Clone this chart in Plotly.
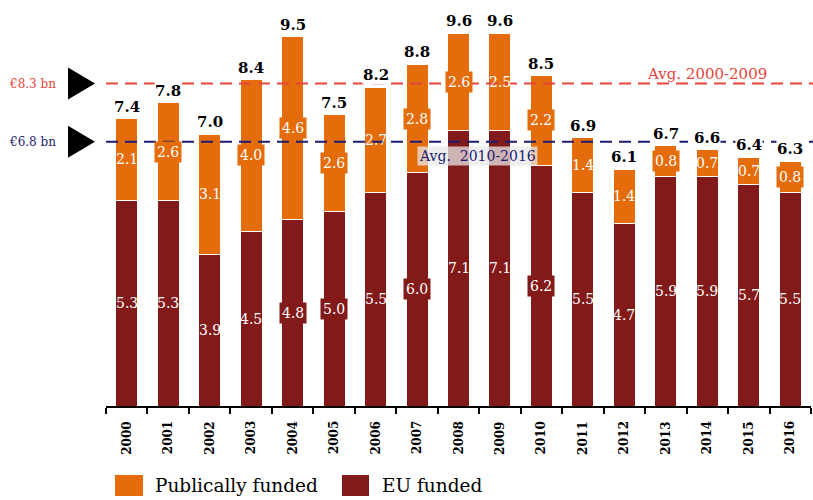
import plotly.graph_objects as go

years = [str(y) for y in range(2000, 2017)]
totals = [7.4, 7.8, 7.0, 8.4, 9.5, 7.5, 8.2, 8.8, 9.6, 9.6, 8.5, 6.9, 6.1, 6.7, 6.6, 6.4, 6.3]
eu_funded = [5.3, 5.3, 3.9, 4.5, 4.8, 5.0, 5.5, 6.0, 7.1, 7.1, 6.2, 5.5, 4.7, 5.9, 5.9, 5.7, 5.5]
public_funded = [2.1, 2.6, 3.1, 4.0, 4.6, 2.6, 2.7, 2.8, 2.6, 2.5, 2.2, 1.4, 1.4, 0.8, 0.7, 0.7, 0.8]
avg_2000_2009 = 8.3
avg_2010_2016 = 6.8
boxed_public = {"2001", "2003", "2004", "2005", "2007", "2008", "2010", "2013", "2016"}
boxed_eu = {"2004", "2005", "2007", "2010"}

ORANGE = "#e46c0a"
DARKRED = "#821a1a"
RED = "#e8453c"
NAVY = "#1c1c72"
FONT = "DejaVu Serif"

W, H = 813, 500
ML, MR, MT, MB = 106, 2, 0, 94
PW, PH = W - ML - MR, H - MT - MB

def px(x):
    return (x - ML) / PW

def py(y):
    return (H - MB - y) / PH

public_height = [round(t - e, 2) for t, e in zip(totals, eu_funded)]

fig = go.Figure()
fig.add_trace(go.Bar(x=years, y=eu_funded, name="EU funded", marker=dict(color=DARKRED, line=dict(color="white", width=1)),
                     hoverinfo="skip"))
fig.add_trace(go.Bar(x=years, y=public_height, name="Publically funded", marker=dict(color=ORANGE, line=dict(color="white", width=1)),
                     hoverinfo="skip"))

ann = []
shapes = []
# average lines
shapes.append(dict(type="line", xref="paper", yref="y", x0=0.0, x1=1.01, y0=avg_2000_2009, y1=avg_2000_2009,
                   line=dict(color=RED, width=2, dash="12px,7px"), layer="above"))
shapes.append(dict(type="line", xref="paper", yref="y", x0=0.0, x1=1.01, y0=avg_2010_2016, y1=avg_2010_2016,
                   line=dict(color=NAVY, width=2, dash="12px,7px"), layer="above"))
# triangles
for v in (avg_2000_2009, avg_2010_2016):
    shapes.append(dict(type="path", xref="paper", yref="y", xsizemode="pixel", ysizemode="pixel",
                       xanchor=0, yanchor=v, path="M-38,-16 L-11,0 L-38,16 Z",
                       fillcolor="black", line=dict(width=0)))

ann.append(dict(x=px(58), y=avg_2000_2009, xref="paper", yref="y", text="€8.3 bn", showarrow=False,
                xanchor="right", font=dict(family=FONT, size=12, color=RED)))
ann.append(dict(x=px(58), y=avg_2010_2016, xref="paper", yref="y", text="€6.8 bn", showarrow=False,
                xanchor="right", font=dict(family=FONT, size=12, color=NAVY)))
ann.append(dict(x=14, y=avg_2000_2009, xref="x", yref="y", text="Avg. 2000-2009", showarrow=False,
                yanchor="bottom", yshift=-1, font=dict(family=FONT, size=15, color=RED)))
ann.append(dict(x=8.45, y=6.44, xref="x", yref="y", text="Avg.  2010-2016", showarrow=False,
                bgcolor="rgba(232,232,232,0.75)", borderpad=1, font=dict(family=FONT, size=14, color=NAVY)))

for i, yr in enumerate(years):
    ann.append(dict(x=i, y=totals[i], xref="x", yref="y", text=f"<b>{totals[i]:.1f}</b>", showarrow=False,
                    yanchor="bottom", yshift=2, bgcolor="white", borderpad=0,
                    font=dict(family=FONT, size=15, color="black")))
    ann.append(dict(x=i, y=(eu_funded[i] + totals[i]) / 2, xref="x", yref="y", text=f"{public_funded[i]:.1f}",
                    showarrow=False, bgcolor=ORANGE if yr in boxed_public else None, borderpad=2,
                    font=dict(family=FONT, size=14, color="white")))
    ann.append(dict(x=i, y=eu_funded[i] / 2, xref="x", yref="y", text=f"{eu_funded[i]:.1f}",
                    showarrow=False, bgcolor=DARKRED if yr in boxed_eu else None, borderpad=2,
                    font=dict(family=FONT, size=14, color="white")))
    # year tick label
    ann.append(dict(x=i, y=py(438), xref="x", yref="paper", text=f"<b>{yr}</b>", showarrow=False,
                    textangle=-90, yanchor="middle", borderpad=0,
                    font=dict(family=FONT, size=12, color="black")))

# manual legend
shapes.append(dict(type="rect", xref="paper", yref="paper", x0=px(115), x1=px(143), y0=py(496), y1=py(475),
                   fillcolor=ORANGE, line=dict(width=0)))
shapes.append(dict(type="rect", xref="paper", yref="paper", x0=px(342), x1=px(369), y0=py(496), y1=py(475),
                   fillcolor=DARKRED, line=dict(width=0)))
ann.append(dict(x=px(153), y=py(486), xref="paper", yref="paper", text="Publically funded", showarrow=False,
                xanchor="left", yshift=-12, font=dict(family=FONT, size=18.5, color="black")))
ann.append(dict(x=px(380), y=py(486), xref="paper", yref="paper", text="EU funded", showarrow=False,
                xanchor="left", yshift=-12, font=dict(family=FONT, size=18.5, color="black")))

fig.update_layout(
    width=W, height=H, margin=dict(l=ML, r=MR, t=MT, b=MB),
    barmode="stack", bargap=0.47, showlegend=False,
    plot_bgcolor="white", paper_bgcolor="white",
    xaxis=dict(type="category", range=[-0.5, len(years) - 0.5], ticks="outside",
               tickson="boundaries", ticklen=6, showticklabels=False,
               tickwidth=2, tickcolor="black", showline=True, linecolor="black", linewidth=2,
               showgrid=False),
    yaxis=dict(range=[0, 10.45], visible=False, showgrid=False, zeroline=False),
    shapes=shapes, annotations=ann,
)

fig.write_html("out.html", config={"displayModeBar": False},
               post_script="document.body.style.margin='0';document.body.style.overflow='hidden';")
